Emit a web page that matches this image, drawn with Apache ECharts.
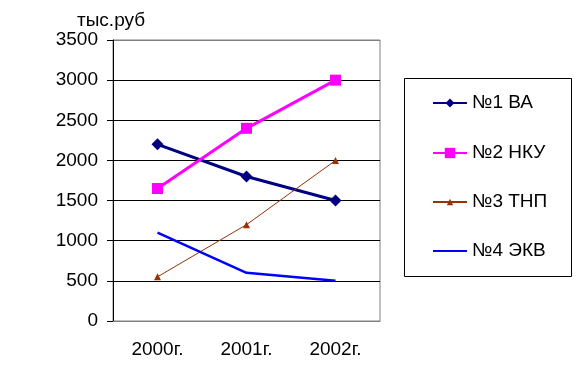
<!DOCTYPE html>
<html><head><meta charset="utf-8">
<script src="https://cdn.jsdelivr.net/npm/echarts@6/dist/echarts.min.js"></script>
<style>html,body{margin:0;padding:0;background:#fff}#c{width:580px;height:372px}</style>
</head><body><div id="c"></div>
<script>
const categories = ['2000г.', '2001г.', '2002г.'];
const seriesNames = ['№1 ВА', '№2 НКУ', '№3 ТНП', '№4 ЭКВ'];
const s1 = [2200, 1800, 1500];
const s2 = [1650, 2400, 3000];
const s3 = [550, 1200, 2000];
const s4 = [1100, 600, 500];
const yTicks = [0, 500, 1000, 1500, 2000, 2500, 3000, 3500];

const FONT = 'Liberation Sans, Arial, sans-serif';
const FS = 19;
const legendCenters = [103, 153, 202, 251];
const legendIconH = [11, 13, 8, 10];

function mkLegend(i, extra) {
  return Object.assign({
    orient: 'vertical', left: 432, top: legendCenters[i] - 11, itemWidth: 34, itemHeight: legendIconH[i],
    padding: 0,
    textStyle: {fontFamily: FONT, fontSize: FS, color: '#000', lineHeight: 22},
    data: [seriesNames[i]]
  }, extra || {});
}

const chart = echarts.init(document.getElementById('c'), null, {renderer: 'canvas'});
chart.setOption({
  animation: false,
  backgroundColor: '#fff',
  grid: {left: 113, right: 200, top: 40, bottom: 51, show: true, borderColor: '#808080', borderWidth: 1},
  title: {text: 'тыс.руб', left: 77, top: 11, padding: 0, textStyle: {fontFamily: FONT, fontSize: FS, fontWeight: 'normal', color: '#000'}},
  xAxis: {
    type: 'category', data: categories, boundaryGap: true,
    axisLine: {lineStyle: {color: '#808080', width: 1}},
    axisTick: {show: false},
    axisLabel: {color: '#000', fontFamily: FONT, fontSize: FS, margin: 19}
  },
  yAxis: {
    type: 'value', min: yTicks[0], max: yTicks[yTicks.length - 1], interval: 500,
    axisLine: {show: true, lineStyle: {color: '#000', width: 1}},
    axisTick: {show: true, length: 6, lineStyle: {color: '#000'}},
    axisLabel: {color: '#000', fontFamily: FONT, fontSize: FS, margin: 15, formatter: v => String(v)},
    splitLine: {show: true, lineStyle: {color: ['#808080', '#000', '#000', '#000', '#000', '#000', '#000', '#808080'], width: 1}}
  },
  legend: [
    mkLegend(0), mkLegend(1), mkLegend(2),
    mkLegend(3, {itemStyle: {opacity: 0}})
  ],
  graphic: [{type: 'rect', shape: {x: 404.5, y: 78.5, width: 167, height: 198}, style: {fill: 'none', stroke: '#000', lineWidth: 1}, z: 100}],
  series: [
    {name: seriesNames[0], type: 'line', data: s1, symbol: 'diamond', symbolSize: 12, color: '#000080', lineStyle: {width: 3, color: '#000080'}, itemStyle: {color: '#000080'}},
    {name: seriesNames[1], type: 'line', data: s2, symbol: 'rect', symbolSize: 11, color: '#FF00FF', lineStyle: {width: 3, color: '#FF00FF'}, itemStyle: {color: '#FF00FF'}},
    {name: seriesNames[2], type: 'line', data: s3, symbol: 'triangle', symbolSize: 7, color: '#993300', lineStyle: {width: 1, color: '#993300'}, itemStyle: {color: '#993300'}},
    {name: seriesNames[3], type: 'line', data: s4, symbol: 'none', showSymbol: false, color: '#0000FF', lineStyle: {width: 2.5, color: '#0000FF'}, itemStyle: {color: '#0000FF'}}
  ]
});
</script></body></html>
